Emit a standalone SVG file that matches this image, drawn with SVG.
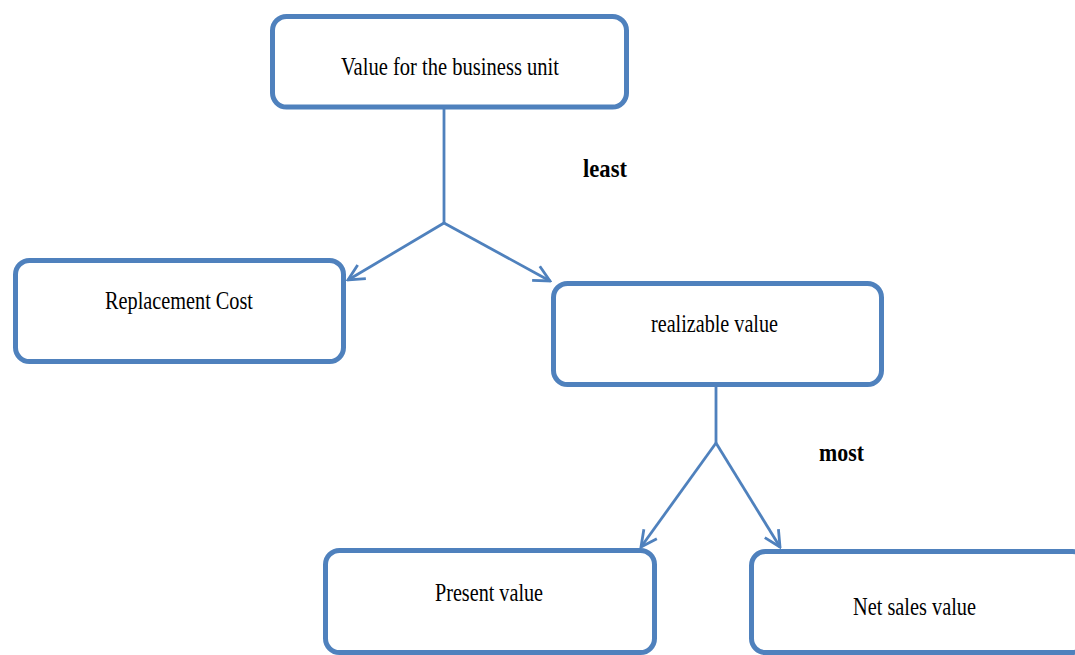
<svg xmlns="http://www.w3.org/2000/svg" width="1075" height="655" viewBox="0 0 1075 655">
<style>
.box{fill:#fff;stroke:#4F81BD;stroke-width:5}
.lbl{font-family:"Liberation Serif","Times New Roman",serif;font-size:26px;fill:#000}
.bold{font-family:"Liberation Serif","Times New Roman",serif;font-size:26px;font-weight:bold;fill:#000}
.conn{fill:none;stroke:#4F81BD;stroke-width:2.8}
</style>
<defs>
<marker id="arr" viewBox="0 0 20 20" refX="18" refY="10" markerWidth="20" markerHeight="20" markerUnits="userSpaceOnUse" orient="auto">
<path d="M2,2 L18,10 L2,18" fill="none" stroke="#4F81BD" stroke-width="2.8"/>
</marker>
</defs>
<rect width="1075" height="655" fill="#fff"/>
<g id="connectors">
<path class="conn" d="M444,109 L444,223"/>
<path class="conn" d="M444,223 L348,280" marker-end="url(#arr)"/>
<path class="conn" d="M444,223 L550,281" marker-end="url(#arr)"/>
<path class="conn" d="M716,387 L716,443"/>
<path class="conn" d="M716,443 L641,547" marker-end="url(#arr)"/>
<path class="conn" d="M716,443 L780,547" marker-end="url(#arr)"/>
</g>
<g id="node-value">
<rect class="box" x="272.5" y="16.5" width="354" height="90.5" rx="14"/>
<text class="lbl" x="341" y="75" textLength="218" lengthAdjust="spacingAndGlyphs">Value for the business unit</text>
</g>
<g id="node-replacement">
<rect class="box" x="15.5" y="260.5" width="328" height="101" rx="14"/>
<text class="lbl" x="105" y="309" textLength="148" lengthAdjust="spacingAndGlyphs">Replacement Cost</text>
</g>
<g id="node-realizable">
<rect class="box" x="553.5" y="283.5" width="328" height="101" rx="14"/>
<text class="lbl" x="651" y="332" textLength="127" lengthAdjust="spacingAndGlyphs">realizable value</text>
</g>
<g id="node-present">
<rect class="box" x="325.5" y="550.5" width="329" height="102" rx="14"/>
<text class="lbl" x="435" y="601" textLength="108" lengthAdjust="spacingAndGlyphs">Present value</text>
</g>
<g id="node-netsales">
<rect class="box" x="751.5" y="551.5" width="335" height="101" rx="14"/>
<text class="lbl" x="853" y="615" textLength="123" lengthAdjust="spacingAndGlyphs">Net sales value</text>
</g>
<g id="label-least">
<text class="bold" x="583" y="177" textLength="44" lengthAdjust="spacingAndGlyphs">least</text>
</g>
<g id="label-most">
<text class="bold" x="819" y="461" textLength="45" lengthAdjust="spacingAndGlyphs">most</text>
</g>
</svg>
